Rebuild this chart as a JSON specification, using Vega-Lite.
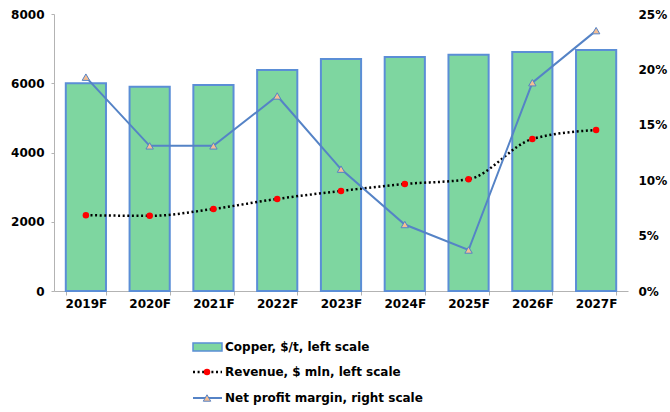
{
  "$schema": "https://vega.github.io/schema/vega-lite/v6.json",
  "width": 574,
  "height": 277,
  "autosize": "none",
  "padding": {"left": 54, "top": 14, "right": 42, "bottom": 121},
  "background": "white",
  "config": {
    "view": {"stroke": null},
    "font": "DejaVu Sans",
    "axis": {"labelFont": "DejaVu Sans", "labelFontWeight": "bold", "labelFontSize": 12, "labelColor": "black", "domainColor": "#b3b3b3", "tickColor": "#b3b3b3", "grid": false},
    "legend": {"padding": 0, "labelFont": "DejaVu Sans", "labelFontWeight": "bold", "labelFontSize": 12, "labelColor": "black", "orient": "none", "labelLimit": 400}
  },
  "data": {"values": [
    {"year": "2019F", "copper": 6000, "revenue": 2190, "margin": 0.193},
    {"year": "2020F", "copper": 5900, "revenue": 2170, "margin": 0.131},
    {"year": "2021F", "copper": 5950, "revenue": 2370, "margin": 0.131},
    {"year": "2022F", "copper": 6380, "revenue": 2660, "margin": 0.176},
    {"year": "2023F", "copper": 6700, "revenue": 2890, "margin": 0.110},
    {"year": "2024F", "copper": 6760, "revenue": 3090, "margin": 0.060},
    {"year": "2025F", "copper": 6820, "revenue": 3230, "margin": 0.037},
    {"year": "2026F", "copper": 6900, "revenue": 4390, "margin": 0.188},
    {"year": "2027F", "copper": 6960, "revenue": 4650, "margin": 0.235}
  ]},
  "encoding": {
    "x": {"field": "year", "type": "nominal", "title": null, "sort": null,
      "scale": {"paddingInner": 0.37, "paddingOuter": 0.185},
      "axis": {"labelAngle": 0, "tickBand": "extent", "tickSize": 4, "labelPadding": 3, "domainWidth": 1}}
  },
  "layer": [
    {
      "layer": [
        {
          "mark": {"type": "bar", "stroke": "#5B8ED6", "strokeWidth": 2},
          "encoding": {
            "y": {"field": "copper", "type": "quantitative", "title": null,
              "scale": {"domain": [0, 8000]},
              "axis": {"orient": "left", "format": "d", "values": [0, 2000, 4000, 6000, 8000], "tickSize": 3, "labelPadding": 7, "title": null}},
            "fill": {"datum": "Copper, $/t, left scale", "type": "nominal",
              "scale": {"range": ["#7ED6A0"]},
              "legend": {"title": null, "legendX": 138, "legendY": 317.5, "symbolType": "M-1,-0.28H1V0.28H-1Z", "symbolSize": 841, "symbolStrokeColor": "#5B8ED6", "symbolStrokeWidth": 1.5, "labelOffset": 2}}
          }
        },
        {
          "mark": {"type": "line", "interpolate": "monotone", "strokeDash": [2, 2.6], "strokeWidth": 2.5},
          "encoding": {
            "y": {"field": "revenue", "type": "quantitative", "title": null, "scale": {"domain": [0, 8000]}},
            "stroke": {"datum": "Revenue, $ mln, left scale", "type": "nominal",
              "scale": {"range": ["black"]},
              "legend": {"title": null, "legendX": 137.5, "legendY": 342, "symbolType": "stroke", "symbolSize": 841, "symbolStrokeWidth": 2.5, "symbolDash": [2, 2.6], "labelOffset": 1.5}}
          }
        },
        {
          "mark": {"type": "point", "filled": true, "size": 42, "opacity": 1},
          "encoding": {
            "y": {"field": "revenue", "type": "quantitative", "title": null, "scale": {"domain": [0, 8000]}},
            "fill": {"datum": "Revenue marker", "type": "nominal",
              "scale": {"range": ["#FF0000"]},
              "legend": {"title": null, "legendX": 147, "legendY": 352, "symbolType": "circle", "symbolSize": 42, "symbolStrokeWidth": 0, "symbolOpacity": 1, "labelExpr": "''", "zindex": 2}}
          }
        }
      ],
      "resolve": {"scale": {"fill": "independent"}, "legend": {"fill": "independent"}}
    },
    {
      "layer": [
        {
          "mark": {"type": "line", "strokeWidth": 2},
          "encoding": {
            "y": {"field": "margin", "type": "quantitative", "title": null,
              "scale": {"domain": [0, 0.25]},
              "axis": {"orient": "right", "format": ".0%", "values": [0, 0.05, 0.1, 0.15, 0.2, 0.25], "domain": false, "ticks": false, "labelPadding": 10, "title": null}},
            "stroke": {"datum": "Net profit margin, right scale", "type": "nominal",
              "scale": {"range": ["#5583C6"]},
              "legend": {"title": null, "legendX": 138, "legendY": 368.5, "symbolType": "stroke", "symbolSize": 841, "symbolStrokeWidth": 2, "labelOffset": 2}}
          }
        },
        {
          "mark": {"type": "point", "filled": true, "shape": "triangle-up", "size": 55, "stroke": "#5583C6", "strokeWidth": 1, "opacity": 1},
          "encoding": {
            "y": {"field": "margin", "type": "quantitative", "title": null, "scale": {"domain": [0, 0.25]}},
            "fill": {"datum": "Margin marker", "type": "nominal",
              "scale": {"range": ["#F5BE93"]},
              "legend": {"title": null, "legendX": 147, "legendY": 378, "symbolType": "triangle-up", "symbolSize": 55, "symbolStrokeColor": "#5583C6", "symbolStrokeWidth": 1, "symbolOpacity": 1, "labelExpr": "''", "zindex": 2}}
          }
        }
      ],
      "resolve": {"scale": {"fill": "independent", "stroke": "independent"}, "legend": {"fill": "independent", "stroke": "independent"}}
    }
  ],
  "resolve": {"scale": {"y": "independent", "fill": "independent", "stroke": "independent"}, "legend": {"fill": "independent", "stroke": "independent"}}
}
